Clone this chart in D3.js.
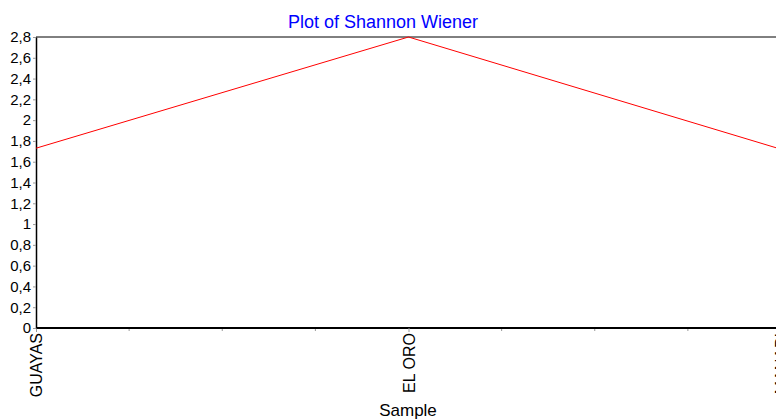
<!DOCTYPE html>
<html>
<head>
<meta charset="utf-8">
<title>Plot of Shannon Wiener</title>
<script src="https://d3js.org/d3.v7.min.js"></script>
<style>
  html, body { margin: 0; padding: 0; background: #fff; overflow: hidden; }
  svg { display: block; font-family: "Liberation Sans", Arial, sans-serif; }
</style>
</head>
<body>
<svg id="chart" width="776" height="419"></svg>
<script>
// data
const samples = ["GUAYAS", "EL ORO", "MANABI"];
const shannon = [1.73, 2.8, 1.72];
const yTicks = [0, 0.2, 0.4, 0.6, 0.8, 1, 1.2, 1.4, 1.6, 1.8, 2, 2.2, 2.4, 2.6, 2.8];

const margin = { top: 37, left: 36, bottom: 328 };
const svg = d3.select("#chart");

// third sample sits just past the right edge of the window
const x = d3.scalePoint()
    .domain(samples)
    .range([margin.left, 781]);

const y = d3.scaleLinear()
    .domain([0, 2.8])
    .range([margin.bottom, margin.top]);

const fmt = d => String(d).replace(".", ",");

// top frame line
svg.append("line")
    .attr("x1", margin.left).attr("x2", 790)
    .attr("y1", y(2.8)).attr("y2", y(2.8))
    .attr("stroke", "#000").attr("stroke-width", 1);

// minor ticks between samples
const step = x.step();
const minor = [];
samples.forEach((s, i) => {
    if (i < samples.length - 1) {
        for (let k = 1; k < 4; k++) minor.push(x(s) + step * k / 4);
    }
});
svg.selectAll(".minor")
    .data(minor)
    .enter().append("line")
    .attr("class", "minor")
    .attr("x1", d => d).attr("x2", d => d)
    .attr("y1", margin.bottom).attr("y2", margin.bottom + 3)
    .attr("stroke", "#999");

// x axis
const xAxis = svg.append("g")
    .attr("transform", `translate(0,${margin.bottom})`)
    .call(d3.axisBottom(x).tickSize(4).tickSizeOuter(0));
xAxis.select(".domain").attr("stroke", "#000").attr("stroke-width", 2)
    .attr("d", `M${margin.left},0H790`);
xAxis.selectAll(".tick line").attr("stroke", "#999");
xAxis.selectAll(".tick text")
    .attr("font-size", 16)
    .attr("fill", "#000")
    .attr("transform", "rotate(-90)")
    .attr("text-anchor", "end")
    .attr("x", -5)
    .attr("y", 0)
    .attr("dy", "0.35em");

// y axis
const yAxis = svg.append("g")
    .attr("transform", `translate(${margin.left},0)`)
    .call(d3.axisLeft(y).tickValues(yTicks).tickFormat(fmt).tickSize(3).tickSizeOuter(0));
yAxis.select(".domain").attr("stroke", "#000").attr("stroke-width", 1.5);
yAxis.selectAll(".tick line").attr("stroke", "#999");
yAxis.selectAll(".tick text")
    .attr("font-size", 15)
    .attr("fill", "#000")
    .attr("x", -5);

// series line
const line = d3.line()
    .x((d, i) => x(samples[i]))
    .y(d => y(d));

svg.append("path")
    .datum(shannon)
    .attr("d", line)
    .attr("fill", "none")
    .attr("stroke", "#ff0000")
    .attr("stroke-width", 1);

// title
svg.append("text")
    .attr("x", 383).attr("y", 28)
    .attr("text-anchor", "middle")
    .attr("font-size", 18)
    .attr("fill", "#0000ff")
    .text("Plot of Shannon Wiener");

// x label
svg.append("text")
    .attr("x", 408).attr("y", 416)
    .attr("text-anchor", "middle")
    .attr("font-size", 17)
    .attr("fill", "#000")
    .text("Sample");
</script>
</body>
</html>
